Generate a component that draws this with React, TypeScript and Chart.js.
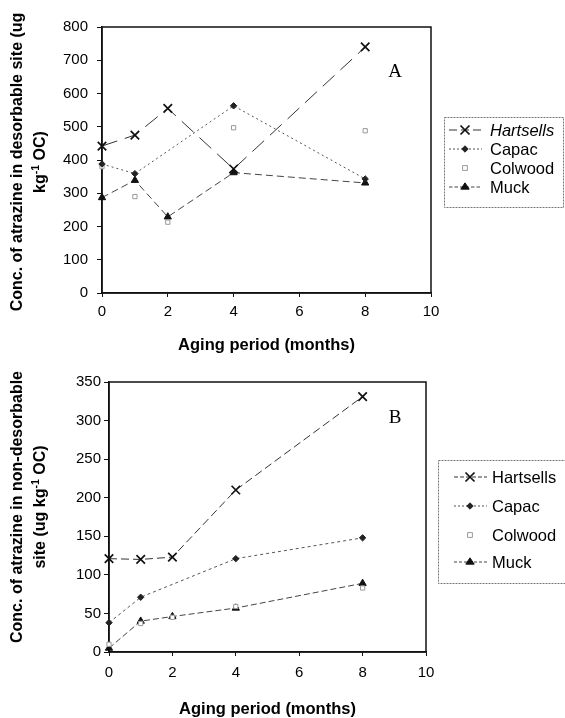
import React, { useEffect, useRef } from "react";
import { Chart, registerables } from "chart.js";

Chart.register(...registerables);

// ---------- data ----------
const months = [0, 1, 2, 4, 8];
const soils = ["Hartsells", "Capac", "Colwood", "Muck"];

// Panel A: desorbable site (ug kg-1 OC)
const desorbHartsells = [442, 475, 555, 373, 740];
const desorbCapac = [388, 359, null, 563, 343];
const desorbColwood = [380, 290, 213, 497, 488];
const desorbMuck = [287, 339, 229, 362, 331];

// Panel B: non-desorbable site (ug kg-1 OC)
const nonDesHartsells = [121, 120, 123, 210, 331];
const nonDesCapac = [38, 71, null, 121, 148];
const nonDesColwood = [10, 37, 45, 59, 83];
const nonDesMuck = [5, 40, 46, 57, 89];

const xMin = 0;
const xMax = 10;
const xStep = 2;
const topYMax = 800;
const topYStep = 100;
const botYMax = 350;
const botYStep = 50;

const xTitle = "Aging period (months)";
const topYTitleLine1 = "Conc. of atrazine in desorbable site (ug";
const topYTitleLine2: [string, boolean][] = [["kg", false], ["-1", true], [" OC)", false]];
const botYTitleLine1 = "Conc. of atrazine in non-desorbable";
const botYTitleLine2: [string, boolean][] = [["site (ug kg", false], ["-1", true], [" OC)", false]];

// ---------- styles ----------
const SANS = '"Liberation Sans", Arial, sans-serif';
const SERIF = '"Liberation Serif", "Times New Roman", serif';

type Sty = {
  pointStyle: string;
  radius: number;
  pointColor: string;
  fill: string;
  pw: number;
  showLine: boolean;
  lineColor: string;
  dashTop: number[];
  dashBot: number[];
};

const STYLES: Sty[] = [
  { pointStyle: "crossRot", radius: 6, pointColor: "#111", fill: "#111", pw: 1.7, showLine: true, lineColor: "#333", dashTop: [16, 8], dashBot: [8, 4] },
  { pointStyle: "rectRot", radius: 3.2, pointColor: "#222", fill: "#222", pw: 1, showLine: true, lineColor: "#555", dashTop: [2, 3], dashBot: [3, 3] },
  { pointStyle: "rect", radius: 3, pointColor: "#999", fill: "#fff", pw: 1, showLine: false, lineColor: "#999", dashTop: [], dashBot: [] },
  { pointStyle: "triangle", radius: 4.2, pointColor: "#111", fill: "#111", pw: 1, showLine: true, lineColor: "#444", dashTop: [7, 4], dashBot: [6, 3] },
];

function drawMarker(ctx: CanvasRenderingContext2D, s: Sty, x: number, y: number) {
  ctx.save();
  ctx.setLineDash([]);
  ctx.lineWidth = s.pw;
  ctx.strokeStyle = s.pointColor;
  ctx.fillStyle = s.fill;
  const r = s.radius;
  ctx.beginPath();
  if (s.pointStyle === "crossRot") {
    const d = r * 0.75;
    ctx.moveTo(x - d, y - d);
    ctx.lineTo(x + d, y + d);
    ctx.moveTo(x + d, y - d);
    ctx.lineTo(x - d, y + d);
    ctx.stroke();
  } else if (s.pointStyle === "rectRot") {
    ctx.moveTo(x, y - r);
    ctx.lineTo(x + r, y);
    ctx.lineTo(x, y + r);
    ctx.lineTo(x - r, y);
    ctx.closePath();
    ctx.fill();
    ctx.stroke();
  } else if (s.pointStyle === "rect") {
    const d = r * 0.8;
    ctx.rect(x - d, y - d, 2 * d, 2 * d);
    ctx.fill();
    ctx.stroke();
  } else {
    const h = r * 1.5;
    ctx.moveTo(x, y - h * 0.66);
    ctx.lineTo(x + r, y + h * 0.34);
    ctx.lineTo(x - r, y + h * 0.34);
    ctx.closePath();
    ctx.fill();
    ctx.stroke();
  }
  ctx.restore();
}

type Panel = {
  height: number;
  left: number;
  right: number;
  top: number;
  bottom: number;
  yMax: number;
  yStep: number;
  series: (number | null)[][];
  dashKey: "dashTop" | "dashBot";
  yTickPad: number;
  xTickPad: number;
  xTitleY: number;
  yTitle1: string;
  yTitle2: [string, boolean][];
  yTitleX1: number;
  yTitleX2: number;
  yTitleShift: number;
  letter: string;
  letterX: number;
  letterY: number;
  legend: { x: number; y: number; w: number; h: number; markerX: number; textX: number; rows: number[]; italicFirst: boolean };
};

const PANEL_A: Panel = {
  height: 362,
  left: 102,
  right: 431,
  top: 27,
  bottom: 293,
  yMax: topYMax,
  yStep: topYStep,
  series: [desorbHartsells, desorbCapac, desorbColwood, desorbMuck],
  dashKey: "dashTop",
  yTickPad: 9,
  xTickPad: 6,
  xTitleY: 345,
  yTitle1: topYTitleLine1,
  yTitle2: topYTitleLine2,
  yTitleX1: 18,
  yTitleX2: 41,
  yTitleShift: 2,
  letter: "A",
  letterX: 395,
  letterY: 72,
  legend: { x: 444, y: 117, w: 119, h: 90, markerX: 465, textX: 490, rows: [130, 149, 168, 187], italicFirst: true },
};

const PANEL_B: Panel = {
  height: 356,
  left: 109,
  right: 426,
  top: 20,
  bottom: 290,
  yMax: botYMax,
  yStep: botYStep,
  series: [nonDesHartsells, nonDesCapac, nonDesColwood, nonDesMuck],
  dashKey: "dashBot",
  yTickPad: 3,
  xTickPad: 8,
  xTitleY: 347,
  yTitle1: botYTitleLine1,
  yTitle2: botYTitleLine2,
  yTitleX1: 18,
  yTitleX2: 41,
  yTitleShift: -10,
  letter: "B",
  letterX: 395,
  letterY: 56,
  legend: { x: 438, y: 98, w: 140, h: 123, markerX: 470, textX: 492, rows: [115, 144, 173, 200], italicFirst: false },
};

function makeDeco(p: Panel) {
  return {
    id: "deco",
    beforeDatasetsDraw(chart: any) {
      const ctx: CanvasRenderingContext2D = chart.ctx;
      const a = chart.chartArea;
      ctx.save();
      ctx.strokeStyle = "#111";
      ctx.lineWidth = 1.5;
      ctx.setLineDash([]);
      ctx.strokeRect(a.left, a.top, a.right - a.left, a.bottom - a.top);
      ctx.restore();
    },
    afterDraw(chart: any) {
      const ctx: CanvasRenderingContext2D = chart.ctx;
      const a = chart.chartArea;
      ctx.save();
      ctx.fillStyle = "#000";
      // x title
      ctx.font = `bold 16.5px ${SANS}`;
      ctx.textAlign = "center";
      ctx.textBaseline = "middle";
      ctx.fillText(xTitle, (a.left + a.right) / 2, p.xTitleY);
      // y title
      const big = `bold 16px ${SANS}`;
      const small = `bold 10.5px ${SANS}`;
      const yc = (a.top + a.bottom) / 2 + p.yTitleShift;
      ctx.font = big;
      ctx.save();
      ctx.translate(p.yTitleX1, yc);
      ctx.rotate(-Math.PI / 2);
      ctx.fillText(p.yTitle1, 0, 0);
      ctx.restore();
      // second line with superscript
      let total = 0;
      const widths = p.yTitle2.map(([t, sup]) => {
        ctx.font = sup ? small : big;
        const w = ctx.measureText(t).width;
        total += w;
        return w;
      });
      ctx.save();
      ctx.translate(p.yTitleX2, yc);
      ctx.rotate(-Math.PI / 2);
      ctx.textAlign = "left";
      let u = -total / 2;
      p.yTitle2.forEach(([t, sup], i) => {
        ctx.font = sup ? small : big;
        ctx.fillText(t, u, sup ? -5 : 0);
        u += widths[i];
      });
      ctx.restore();
      // panel letter
      ctx.font = `19px ${SERIF}`;
      ctx.textAlign = "center";
      ctx.fillText(p.letter, p.letterX, p.letterY);
      // legend
      const L = p.legend;
      ctx.save();
      ctx.strokeStyle = "#777";
      ctx.lineWidth = 1;
      ctx.setLineDash([2, 1]);
      ctx.strokeRect(L.x + 0.5, L.y + 0.5, L.w, L.h);
      ctx.restore();
      soils.forEach((name, i) => {
        const s = STYLES[i];
        const y = L.rows[i];
        if (s.showLine) {
          ctx.save();
          ctx.strokeStyle = s.lineColor;
          ctx.lineWidth = 1;
          ctx.setLineDash(s[p.dashKey].map((v) => Math.max(2, v * 0.5)));
          ctx.beginPath();
          ctx.moveTo(L.markerX - 16, y);
          ctx.lineTo(L.markerX + 17, y);
          ctx.stroke();
          ctx.restore();
        }
        drawMarker(ctx, s, L.markerX, y);
        ctx.font = `${L.italicFirst && i === 0 ? "italic " : ""}16.5px ${SANS}`;
        ctx.textAlign = "left";
        ctx.textBaseline = "middle";
        ctx.fillStyle = "#000";
        ctx.fillText(name, L.textX, y + 1);
      });
      ctx.restore();
    },
  };
}

function PanelChart({ p }: { p: Panel }) {
  const ref = useRef<HTMLCanvasElement | null>(null);
  useEffect(() => {
    if (!ref.current) return;
    const datasets = soils.map((name, i) => {
      const s = STYLES[i];
      return {
        label: name,
        data: months.map((m, j) => ({ x: m, y: p.series[i][j] })),
        showLine: s.showLine,
        spanGaps: true,
        borderColor: s.lineColor,
        borderWidth: 1,
        borderDash: s[p.dashKey],
        pointStyle: s.pointStyle,
        pointRadius: s.radius,
        pointBorderColor: s.pointColor,
        pointBackgroundColor: s.fill,
        pointBorderWidth: s.pw,
        tension: 0,
        fill: false,
        clip: false,
      };
    });
    const chart = new Chart(ref.current, {
      type: "line",
      data: { datasets } as any,
      options: {
        responsive: false,
        animation: false,
        events: [],
        layout: {
          padding: { left: 0, right: 565 - p.right, top: p.top, bottom: 0 },
        },
        plugins: {
          legend: { display: false },
          tooltip: { enabled: false },
          title: { display: false },
        },
        scales: {
          x: {
            type: "linear",
            min: xMin,
            max: xMax,
            afterFit: (sc: any) => {
              sc.height = p.height - p.bottom;
            },
            ticks: {
              stepSize: xStep,
              color: "#000",
              font: { family: SANS, size: 15 },
              padding: p.xTickPad,
              maxRotation: 0,
            },
            grid: { display: true, drawOnChartArea: false, drawTicks: true, tickLength: 4, color: "#111" },
            border: { display: true, color: "#111", width: 1.5 },
          },
          y: {
            type: "linear",
            min: 0,
            max: p.yMax,
            afterFit: (sc: any) => {
              sc.width = p.left;
            },
            ticks: {
              stepSize: p.yStep,
              color: "#000",
              font: { family: SANS, size: 15 },
              padding: p.yTickPad,
            },
            grid: { display: true, drawOnChartArea: false, drawTicks: true, tickLength: 5, color: "#111" },
            border: { display: true, color: "#111", width: 1.5 },
          },
        },
      } as any,
      plugins: [makeDeco(p)],
    });
    return () => chart.destroy();
  }, [p]);
  return <canvas ref={ref} width={565} height={p.height} style={{ display: "block", width: 565, height: p.height }} />;
}

export default function App() {
  return (
    <div style={{ position: "absolute", left: 0, top: 0, width: 565, height: 718, background: "#fff", overflow: "hidden" }}>
      <PanelChart p={PANEL_A} />
      <PanelChart p={PANEL_B} />
    </div>
  );
}
